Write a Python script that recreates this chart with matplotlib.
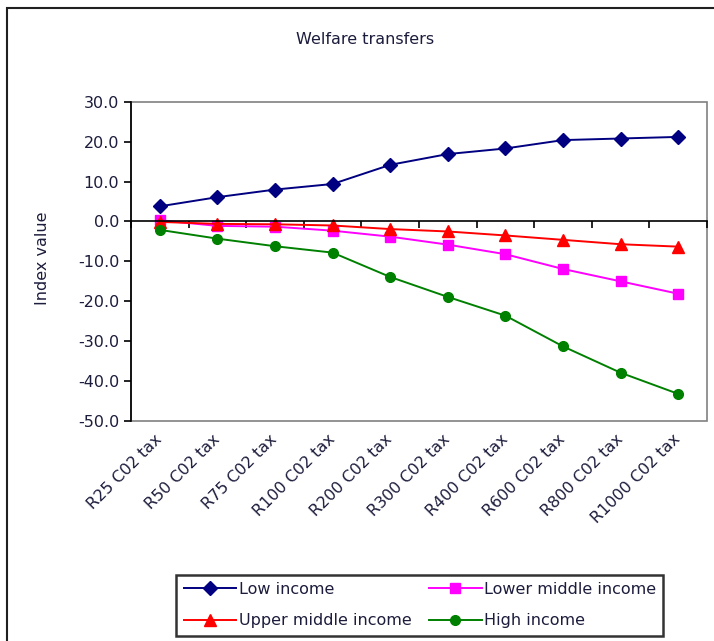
import matplotlib
matplotlib.use("Agg")
import matplotlib.pyplot as plt
from matplotlib.patches import Rectangle

plt.rcParams['font.family'] = ['DejaVu Sans']
plt.rcParams['axes.unicode_minus'] = False

categories = ["R25 C02 tax", "R50 C02 tax", "R75 C02 tax", "R100 C02 tax", "R200 C02 tax",
              "R300 C02 tax", "R400 C02 tax", "R600 C02 tax", "R800 C02 tax", "R1000 C02 tax"]
low_income = [3.8, 6.1, 8.0, 9.4, 14.2, 16.9, 18.3, 20.4, 20.8, 21.2]
lower_middle = [0.3, -1.1, -1.3, -2.3, -3.8, -5.8, -8.2, -11.9, -15.0, -18.1]
upper_middle = [-0.1, -0.6, -0.7, -1.0, -1.9, -2.5, -3.5, -4.6, -5.7, -6.3]
high_income = [-2.1, -4.3, -6.2, -7.8, -13.9, -18.9, -23.6, -31.3, -37.9, -43.2]
y_ticks = [30, 20, 10, 0, -10, -20, -30, -40, -50]

text_col = "#1c1c3c"
fs = 11.5

fig = plt.figure(figsize=(7.14, 6.41), dpi=100)
ax = fig.add_axes([0.1835, 0.3432, 0.8067, 0.498])

x = range(len(categories))
h_low, = ax.plot(x, low_income, color="#000080", marker="D", markersize=7, lw=1.4, label="Low income")
h_lm, = ax.plot(x, lower_middle, color="#ff00ff", marker="s", markersize=7, lw=1.4, label="Lower middle income")
h_um, = ax.plot(x, upper_middle, color="#ff0000", marker="^", markersize=8, lw=1.4, label="Upper middle income")
h_hi, = ax.plot(x, high_income, color="#008000", marker="o", markersize=7, lw=1.4, label="High income")

# category axis crosses at zero (set before ticks, it resets them)
ax.spines['top'].set_position(('data', 0))
ax.spines['top'].set_linewidth(1.2)
ax.spines['left'].set_linewidth(1.2)
ax.spines['bottom'].set_visible(False)
ax.spines['right'].set_visible(False)
ax.add_patch(Rectangle((0, 0), 1, 1, transform=ax.transAxes, fill=False,
                       edgecolor="#808080", lw=1.2, clip_on=False, zorder=0))

ax.set_xlim(-0.5, len(categories) - 0.5)
ax.set_ylim(-50, 30)
ax.set_yticks(y_ticks)
ax.set_yticklabels([f"{v:.1f}" for v in y_ticks])
ax.tick_params(axis='y', direction='out', length=5, width=1.2, labelsize=fs, labelcolor=text_col)

ax.set_xticks(list(x))
ax.set_xticklabels(categories)
ax.tick_params(axis='x', which='major', bottom=False, top=False, pad=8, labelsize=fs, labelcolor=text_col)
ax.set_xticks([i - 0.5 for i in range(len(categories) + 1)], minor=True)
ax.tick_params(axis='x', which='minor', bottom=False, top=True, direction='in', length=5, width=1.2)
plt.setp(ax.get_xticklabels(), rotation=45, ha='right', va='center', rotation_mode='anchor')

fig.text(0.511, 0.9376, "Welfare transfers", ha='center', va='center', fontsize=fs, color=text_col)
fig.text(0.059, 0.597, "Index value", ha='center', va='center', rotation=90, fontsize=fs, color=text_col)

leg = fig.legend([h_low, h_um, h_lm, h_hi],
                 ["Low income", "Upper middle income", "Lower middle income", "High income"],
                 ncol=2, loc='center', bbox_to_anchor=(0.588, 0.056), fontsize=fs,
                 frameon=True, fancybox=False, edgecolor='black', handlelength=3.3,
                 columnspacing=1.1, handletextpad=0.15, borderpad=0.45, labelspacing=1.05)
leg.get_frame().set_linewidth(1.8)
for t in leg.get_texts():
    t.set_color(text_col)

fig.patches.append(Rectangle((0.0098, -0.2), 1.5, 1.1875, transform=fig.transFigure,
                             fill=False, edgecolor="#202020", lw=1.5))

fig.savefig("out.png", dpi=100)
